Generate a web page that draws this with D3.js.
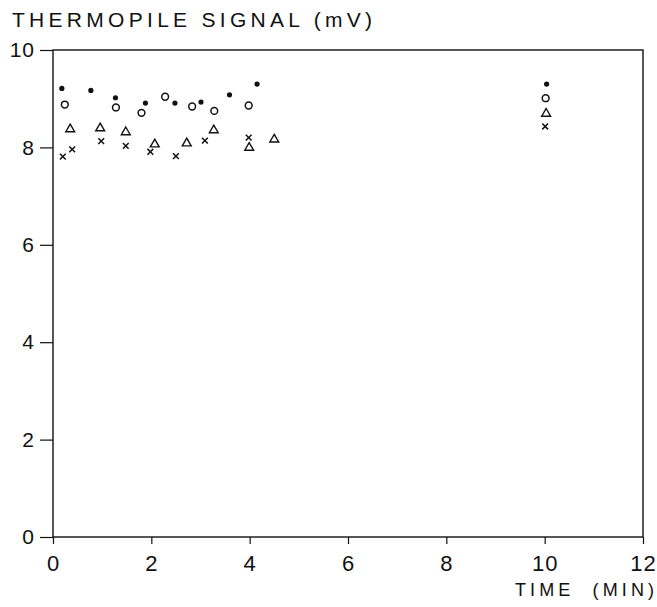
<!DOCTYPE html>
<html><head><meta charset="utf-8">
<script src="https://cdn.jsdelivr.net/npm/d3@7/dist/d3.min.js"></script>
<style>
body{margin:0;background:#fff;}
text{font-family:"Liberation Sans",sans-serif;fill:#111;}
</style></head>
<body><svg id="c" width="657" height="607"></svg>
<script>
const xTicks=[0,2,4,6,8,10,12];
const yTicks=[0,2,4,6,8,10];
const filledT=[0.18,0.77,1.27,1.88,2.48,3.01,3.59,4.15,10.04];
const filledV=[9.21,9.17,9.02,8.91,8.91,8.93,9.08,9.30,9.30];
const openT=[0.24,1.28,1.80,2.28,2.83,3.28,3.98,10.02];
const openV=[8.88,8.82,8.71,9.04,8.84,8.75,8.86,9.01];
const triT=[0.35,0.96,1.48,2.07,2.72,3.27,3.99,4.50,10.03];
const triV=[8.39,8.41,8.33,8.08,8.10,8.37,8.01,8.18,8.71];
const crossT=[0.20,0.39,0.98,1.48,1.98,2.50,3.09,3.98,10.01];
const crossV=[7.81,7.96,8.13,8.03,7.91,7.82,8.14,8.20,8.43];

const svg=d3.select("#c");
const x=d3.scaleLinear().domain([0,12]).range([53,643]);
const y=d3.scaleLinear().domain([0,10]).range([537,50]);
const ink="#111";

// frame
svg.append("rect").attr("x",x(0)).attr("y",y(10)).attr("width",x(12)-x(0)).attr("height",y(0)-y(10))
  .attr("fill","none").attr("stroke",ink).attr("stroke-width",1.4);

// x axis
const gx=svg.append("g").attr("transform",`translate(0,${y(0)})`)
  .call(d3.axisBottom(x).tickValues(xTicks).tickSize(7).tickPadding(11).tickFormat(d3.format("d")));
gx.select(".domain").remove();
gx.selectAll(".tick line").attr("stroke",ink).attr("stroke-width",1.2);
gx.selectAll(".tick text").attr("font-size",22).attr("font-family","Liberation Sans").attr("fill",ink)
  .style("letter-spacing","1px");

// y axis
const gy=svg.append("g").attr("transform",`translate(${x(0)},0)`)
  .call(d3.axisLeft(y).tickValues(yTicks).tickSize(13).tickPadding(5).tickFormat(d3.format("d")));
gy.select(".domain").remove();
gy.selectAll(".tick line").attr("stroke",ink).attr("stroke-width",1.2);
gy.selectAll(".tick text").attr("font-size",21).attr("font-family","Liberation Sans").attr("fill",ink)
  .style("letter-spacing","1px");

// titles
svg.append("text").attr("x",12).attr("y",27).attr("font-size",21)
  .attr("textLength",360).attr("lengthAdjust","spacing")
  .text("THERMOPILE SIGNAL (mV)");
svg.append("text").attr("x",515).attr("y",596).attr("font-size",18)
  .attr("textLength",139).attr("lengthAdjust","spacing")
  .attr("xml:space","preserve").text("TIME  (MIN)");

// data
const zip=(a,b)=>a.map((t,i)=>[t,b[i]]);
svg.append("g").selectAll("circle").data(zip(filledT,filledV)).join("circle")
  .attr("cx",d=>x(d[0])).attr("cy",d=>y(d[1])).attr("r",2.6).attr("fill",ink);
svg.append("g").selectAll("circle").data(zip(openT,openV)).join("circle")
  .attr("cx",d=>x(d[0])).attr("cy",d=>y(d[1])).attr("r",3.4).attr("fill","none").attr("stroke",ink).attr("stroke-width",1.5);
const tri=d3.symbol().type(d3.symbolTriangle).size(34);
svg.append("g").selectAll("path").data(zip(triT,triV)).join("path")
  .attr("d",tri).attr("transform",d=>`translate(${x(d[0])},${y(d[1])+0.8})`)
  .attr("fill","none").attr("stroke",ink).attr("stroke-width",1.4);
svg.append("g").selectAll("path").data(zip(crossT,crossV)).join("path")
  .attr("d","M-2.9,-2.9L2.9,2.9M-2.9,2.9L2.9,-2.9").attr("transform",d=>`translate(${x(d[0])},${y(d[1])})`)
  .attr("fill","none").attr("stroke",ink).attr("stroke-width",1.5);
</script></body></html>
